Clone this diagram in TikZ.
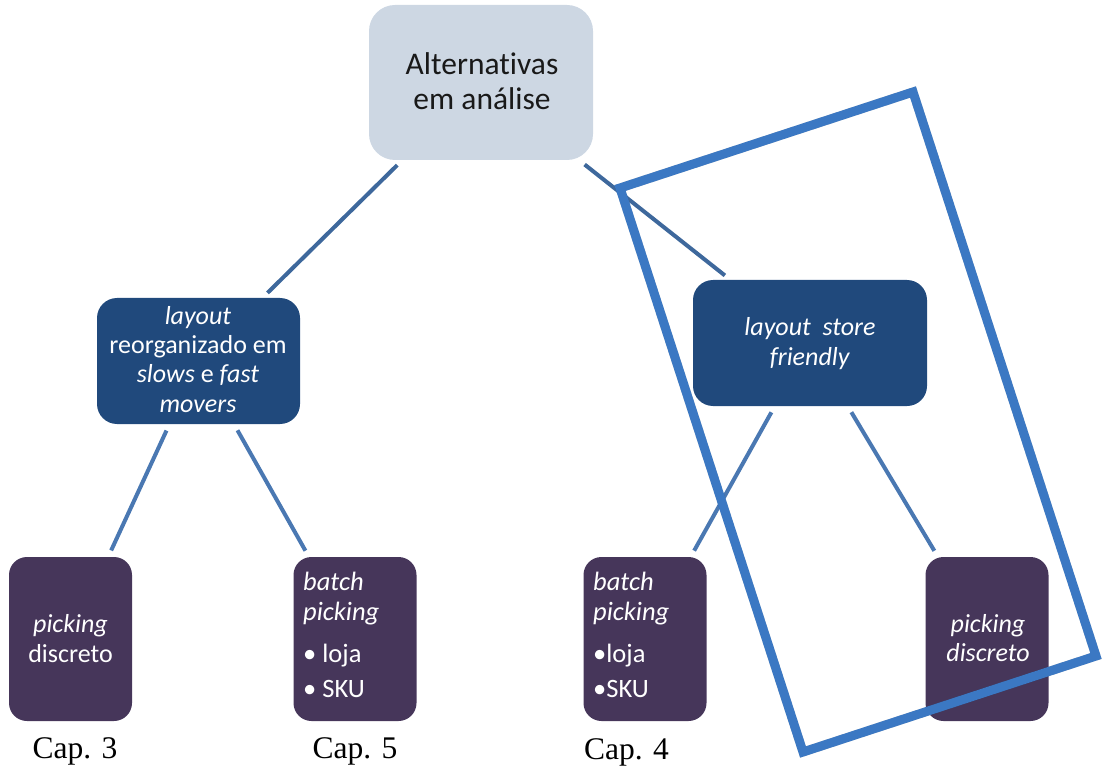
\documentclass[tikz,border=0pt]{standalone}
\usepackage{fontspec}
\setmainfont[Ligatures=NoCommon]{Carlito}
\newfontfamily\capfont{Liberation Serif}
\definecolor{topfill}{RGB}{205,215,227}
\definecolor{midfill}{RGB}{32,73,124}
\definecolor{botfill}{RGB}{70,54,90}
\definecolor{linkup}{RGB}{62,104,156}
\definecolor{linkdn}{RGB}{74,120,178}
\definecolor{framecol}{RGB}{59,120,195}
\begin{document}
\begin{tikzpicture}[x=1pt,y=-1pt,
  topbox/.style={fill=topfill, rounded corners=26pt, minimum width=224pt, minimum height=155pt, inner sep=0pt},
  midbox/.style={fill=midfill, rounded corners=20pt, minimum height=126pt, inner sep=0pt},
  botbox/.style={fill=botfill, rounded corners=18pt, minimum width=123pt, minimum height=164pt, inner sep=0pt},
  linkA/.style={draw=linkup, line width=4pt, shorten <=7pt, shorten >=7pt},
  linkB/.style={draw=linkdn, line width=4pt, shorten <=7pt, shorten >=7pt},
  ln/.style={inner sep=0pt, anchor=base, text=white, font=\fontsize{26}{30}\selectfont},
  lnw/.style={inner sep=0pt, anchor=base west, text=white, font=\fontsize{26.5}{30}\selectfont},
  lntop/.style={inner sep=0pt, anchor=base, text=black!90, font=\fontsize{31.5}{35}\selectfont},
  caplab/.style={inner sep=0pt, anchor=base, text=black, font=\capfont\fontsize{31.5}{35}\selectfont},
  frameline/.style={draw=framecol, line width=9pt, line join=miter}
]
\useasboundingbox (0,0) rectangle (1103,767);

% boxes
\node[topbox] (top) at (481,82.5) {};
\node[midbox, minimum width=203pt] (left) at (198.5,361) {};
\node[midbox, minimum width=234pt] (right) at (810,343) {};
\node[botbox] (b1) at (70.5,639) {};
\node[botbox] (b2) at (355,639) {};
\node[botbox] (b3) at (645,639) {};
\node[botbox] (b4) at (987,639) {};

% connectors
\draw[linkA] (top) -- (left);
\draw[linkA] (top) -- (right);
\draw[linkB] (left) -- (b1);
\draw[linkB] (left) -- (b2);
\draw[linkB] (right) -- (b3);
\draw[linkB] (right) -- (b4);

% texts
\node[lntop] (t1) at (482,75) {Alternativas};
\node[lntop] (t2) at (482,110) {em análise};

\node[ln] (l1) at (198,325) {\textit{layout}};
\node[ln] (l2) at (198,353) {reorganizado em};
\node[ln] (l3) at (198,382) {\textit{slows} e \textit{fast}};
\node[ln] (l4) at (198,412) {\textit{movers}};

\node[ln] (r1) at (810,335) {\textit{layout~~store}};
\node[ln] (r2) at (810,365) {\textit{friendly}};

\node[ln] (p1) at (70.5,632) {\textit{picking}};
\node[ln] (p2) at (70.5,662) {discreto};

\node[lnw] (q1) at (303,590) {\textit{batch}};
\node[lnw] (q2) at (303,620) {\textit{picking}};
\node[lnw] (q3) at (303,662) {• loja};
\node[lnw] (q4) at (303,697) {• SKU};

\node[lnw] (s1) at (593,590) {\textit{batch}};
\node[lnw] (s2) at (593,620) {\textit{picking}};
\node[lnw] (s3) at (593,662) {•loja};
\node[lnw] (s4) at (593,697) {•SKU};

\node[ln] (u1) at (988,632) {\textit{picking}};
\node[ln] (u2) at (988,661) {\textit{discreto}};

\node[caplab] (c3) at (75,758) {Cap. 3};
\node[caplab] (c5) at (355,758) {Cap. 5};
\node[caplab] (c4) at (626.5,759) {Cap. 4};

% highlight frame
\coordinate (f1) at (620,188);
\coordinate (f2) at (913,92);
\coordinate (f3) at (1096,656);
\coordinate (f4) at (803,752);
\draw[line width=9pt, draw=black, opacity=0.18, line join=miter, shift={(3,3)}] (f1) -- (f2) -- (f3) -- (f4) -- cycle;
\draw[frameline] (f1) -- (f2) -- (f3) -- (f4) -- cycle;
\end{tikzpicture}
\end{document}
